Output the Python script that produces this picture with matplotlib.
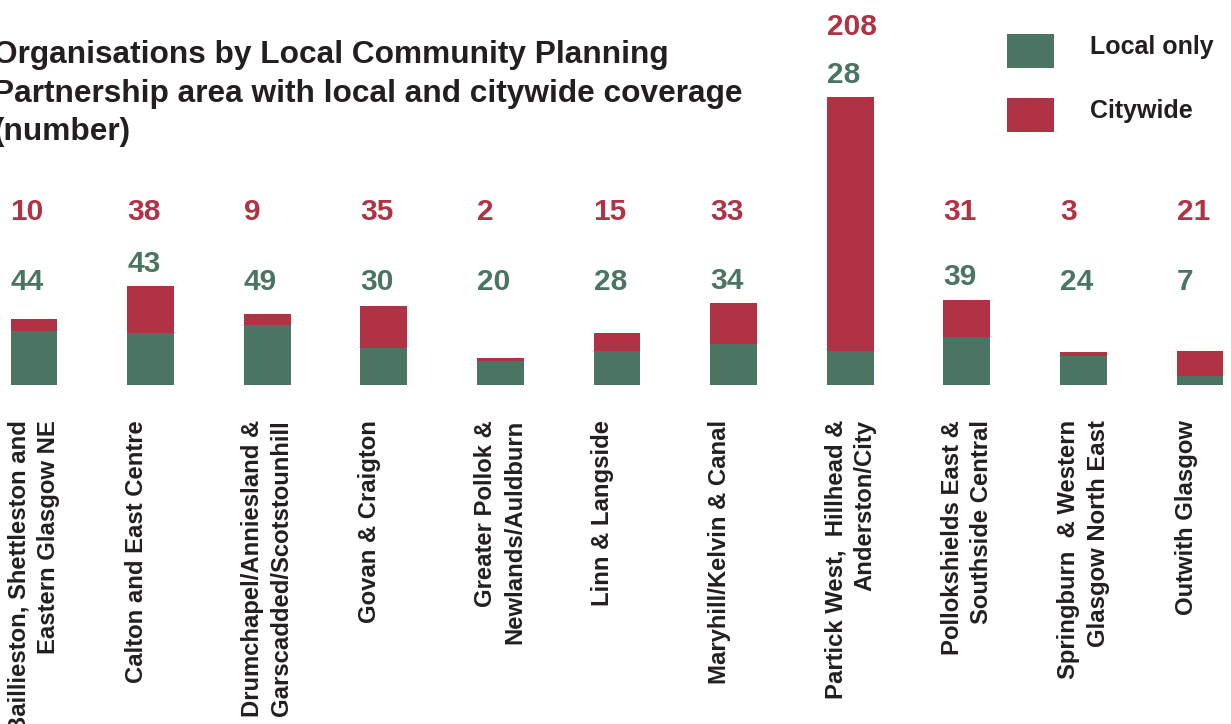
import numpy as np
import matplotlib
matplotlib.use('Agg')
import matplotlib.pyplot as plt
import matplotlib.transforms as mtransforms

# dados
areas = [
    'Baillieston, Shettleston and\nEastern Glasgow NE',
    'Calton and East Centre',
    'Drumchapel/Anniesland &\nGarscadded/Scotstounhill',
    'Govan & Craigton',
    'Greater Pollok &\nNewlands/Auldburn',
    'Linn & Langside',
    'Maryhill/Kelvin & Canal',
    'Partick West,  Hillhead &\nAnderston/City',
    'Pollokshields East &\nSouthside Central',
    'Springburn  & Western\nGlasgow North East',
    'Outwith Glasgow',
]
local_only = [44, 43, 49, 30, 20, 28, 34, 28, 39, 24, 7]
citywide = [10, 38, 9, 35, 2, 15, 33, 208, 31, 3, 21]

VERDE = '#4b7463'
VERMELHO = '#b03245'
TEXTO = '#231f20'

plt.rcParams['font.family'] = ['Liberation Sans', 'DejaVu Sans']
plt.rcParams['font.weight'] = 'bold'

fig = plt.figure(figsize=(12.31, 7.24), dpi=100)
ax = fig.add_axes([0, 1 - 385 / 724, 1, 385 / 724])

x = np.arange(len(areas))
largura = 0.403
b1 = ax.bar(x, local_only, largura, color=VERDE, label='Local only')
b2 = ax.bar(x, citywide, largura, bottom=local_only, color=VERMELHO, label='Citywide')

ax.set_xlim(-34 / 116.6, len(areas) - 1 + 31 / 116.6)
ax.set_ylim(0, 385 / 1.22)
ax.axis('off')

# rótulos com os valores
for i in range(len(areas)):
    total = local_only[i] + citywide[i]
    y_local = max(84.8, total + 18.4)
    y_city = max(142.2, y_local + 39.3)
    ax.text(i - largura / 2, y_local, str(local_only[i]), color=VERDE,
            fontsize=21.5, fontweight='bold', ha='left', va='center')
    ax.text(i - largura / 2, y_city, str(citywide[i]), color=VERMELHO,
            fontsize=21.5, fontweight='bold', ha='left', va='center')

# nomes das áreas, rodados
trans = mtransforms.blended_transform_factory(ax.transData, fig.transFigure)
for i, nome in enumerate(areas):
    t = trans
    if '\n' not in nome:
        t = trans + mtransforms.ScaledTranslation(-14 / 100, 0, fig.dpi_scale_trans)
    ax.text(i, 1 - 420 / 724, nome, transform=t, rotation=90,
            ha='center', va='top', multialignment='right',
            fontsize=17.2, fontweight='bold', color=TEXTO, linespacing=1.35)

fig.text(-7 / 1231, 1 - 40 / 724,
         'Organisations by Local Community Planning\n'
         'Partnership area with local and citywide coverage\n'
         '(number)',
         ha='left', va='top', fontsize=22.8, fontweight='bold',
         color=TEXTO, linespacing=1.37)

leg = fig.legend(handles=[b1, b2], loc='upper left',
                 bbox_to_anchor=(1007 / 1231, 1 - 34 / 724),
                 frameon=False, fontsize=18, handlelength=47 / 25,
                 handleheight=1.7, handletextpad=36 / 25, labelspacing=30 / 25,
                 borderpad=0, borderaxespad=0, labelcolor=TEXTO)
# texto da legenda um pouco acima do quadrado, como no original
for txt in leg.get_texts():
    txt.set_transform(txt.get_transform() + mtransforms.Affine2D().translate(0, 5))

fig.savefig('out.png', dpi=100)
